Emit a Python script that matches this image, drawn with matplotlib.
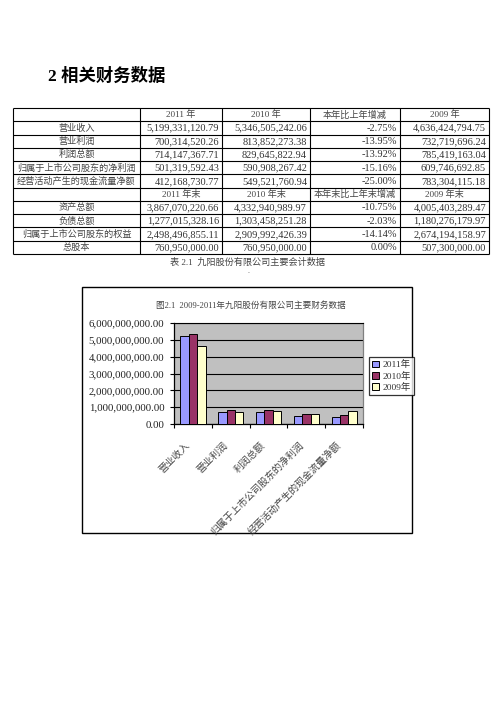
import matplotlib
matplotlib.use("Agg")
import matplotlib.pyplot as plt
from matplotlib.patches import Rectangle, Patch
from matplotlib.ticker import FixedLocator, FuncFormatter
import matplotlib.transforms as mtransforms
import numpy as np

plt.rcParams['font.family'] = ['Noto Sans CJK SC', 'DejaVu Sans']

# ---------------- data ----------------
title = "2 相关财务数据"
header1 = ["", "2011 年", "2010 年", "本年比上年增减", "2009 年"]
labels1 = ["营业收入", "营业利润", "利润总额", "归属于上市公司股东的净利润", "经营活动产生的现金流量净额"]
v2011 = [5199331120.79, 700314520.26, 714147367.71, 501319592.43, 412168730.77]
v2010 = [5346505242.06, 813852273.38, 829645822.94, 590908267.42, 549521760.94]
change1 = ["-2.75%", "-13.95%", "-13.92%", "-15.16%", "-25.00%"]
v2009 = [4636424794.75, 732719696.24, 785419163.04, 609746692.85, 783304115.18]

header2 = ["", "2011 年末", "2010 年末", "本年末比上年末增减", "2009 年末"]
labels2 = ["资产总额", "负债总额", "归属于上市公司股东的权益", "总股本"]
e2011 = [3867070220.66, 1277015328.16, 2498496855.11, 760950000.00]
e2010 = [4332940989.97, 1303458251.28, 2909992426.39, 760950000.00]
change2 = ["-10.75%", "-2.03%", "-14.14%", "0.00%"]
e2009 = [4005403289.47, 1180276179.97, 2674194158.97, 507300000.00]

table_caption = "表 2.1  九阳股份有限公司主要会计数据"
chart_title = "图2.1  2009-2011年九阳股份有限公司主要财务数据"
series_names = ["2011年", "2010年", "2009年"]
series_colors = ["#9999FF", "#993366", "#FFFFCC"]
yticks = [0, 1e9, 2e9, 3e9, 4e9, 5e9, 6e9]

# ---------------- figure ----------------
W, H = 496, 702
fig = plt.figure(figsize=(W / 100, H / 100), dpi=100)
fig.patch.set_facecolor("white")

page = fig.add_axes([0, 0, 1, 1])
page.set_xlim(0, W)
page.set_ylim(H, 0)
page.axis("off")

# title
page.text(48, 76, title, fontsize=12.5, fontweight="bold",
          family=["Liberation Serif", "Noto Sans CJK SC"], va="center", ha="left", color="black")

# table
col_x = [13, 140, 222, 310, 400, 489]
top, bottom = 108, 254
nrows = 1 + len(labels1) + 1 + len(labels2)
rh = (bottom - top) / nrows
lw = 0.8
for i in range(nrows + 1):
    page.plot([col_x[0], col_x[-1]], [top + i * rh] * 2, color="black", lw=lw, solid_capstyle="butt")
for x in col_x:
    page.plot([x, x], [top, bottom], color="black", lw=lw, solid_capstyle="butt")

txt_col = "#444444"
cjk_fs = 6.6
num_fs = 7.5
numfam = ["Liberation Serif", "Noto Sans CJK SC"]


def fmt(v):
    return f"{v:,.2f}"


rows = [header1]
for k in range(len(labels1)):
    rows.append([labels1[k], fmt(v2011[k]), fmt(v2010[k]), change1[k], fmt(v2009[k])])
rows.append(header2)
for k in range(len(labels2)):
    rows.append([labels2[k], fmt(e2011[k]), fmt(e2010[k]), change2[k], fmt(e2009[k])])
header_idx = {0, 1 + len(labels1)}

for r, row in enumerate(rows):
    yc = top + (r + 0.5) * rh + 0.3
    for c, s in enumerate(row):
        if not s:
            continue
        if r in header_idx or c == 0:
            xc = (col_x[c] + col_x[c + 1]) / 2
            page.text(xc, yc, s, fontsize=cjk_fs, ha="center", va="center", color=txt_col,
                      family=numfam)
        else:
            page.text(col_x[c + 1] - 3, yc, s, fontsize=num_fs, ha="right", va="center",
                      color="#333333", family=numfam)

page.text(248, 262, table_caption, fontsize=6.6, ha="center", va="center", color=txt_col,
          family=numfam)
page.text(248, 271, ".", fontsize=5, ha="center", va="center", color="#666666")

# chart box
page.add_patch(Rectangle((82, 287), 412 - 82, 533 - 287, facecolor="white", edgecolor="black", lw=1.0))
page.text(251, 305, chart_title, fontsize=6.2, ha="center", va="center", color="#444444",
          family=numfam)

# ---------------- chart ----------------
pl, pr, pt, pb = 174, 363, 323, 424
ax = fig.add_axes([pl / W, 1 - pb / H, (pr - pl) / W, (pb - pt) / H])
ax.set_facecolor("#C0C0C0")
x = np.arange(len(labels1))
w = 1 / 4.5
for i, (vals, col) in enumerate(zip([v2011, v2010, v2009], series_colors)):
    ax.bar(x + (i - 1) * w, vals, width=w, color=col, edgecolor="black", linewidth=0.7, zorder=3)

ax.set_xlim(-0.5, len(labels1) - 0.5)
ax.set_ylim(0, 6e9)
ax.yaxis.set_major_locator(FixedLocator(yticks))
ax.yaxis.set_major_formatter(FuncFormatter(lambda v, p: f"{v:,.2f}"))
ax.grid(axis="y", color="black", lw=0.8, zorder=1)
ax.set_axisbelow(True)
ax.tick_params(axis="y", direction="out", length=3, width=0.8, pad=4, labelsize=7.8, colors="black")
for lab in ax.get_yticklabels():
    lab.set_family(numfam)
    lab.set_color("#222222")

ax.set_xticks(x)
ax.set_xticklabels(labels1, rotation=45, ha="right", va="center", rotation_mode="anchor",
                   fontsize=7, color="#444444")
ax.tick_params(axis="x", which="major", length=0, pad=14)
offset = mtransforms.ScaledTranslation(-5 / 100, 0, fig.dpi_scale_trans)
for lab in ax.get_xticklabels():
    lab.set_transform(lab.get_transform() + offset)
ax.set_xticks(np.arange(-0.5, len(labels1)), minor=True)
ax.tick_params(axis="x", which="minor", direction="out", length=3, width=0.8)

for s in ["left", "bottom"]:
    ax.spines[s].set_color("black")
    ax.spines[s].set_linewidth(0.9)
ax.spines["top"].set_color("black")
ax.spines["top"].set_linewidth(0.8)
ax.spines["right"].set_color("#808080")
ax.spines["right"].set_linewidth(0.9)

handles = [Patch(facecolor=c, edgecolor="black", lw=0.7) for c in series_colors]
leg = fig.legend(handles, series_names, loc="upper left", bbox_to_anchor=(369 / W, 1 - 357 / H),
                 borderaxespad=0, fontsize=6.8, frameon=True, fancybox=False, edgecolor="black",
                 borderpad=0.35, labelspacing=0.25, handlelength=0.75, handleheight=0.75,
                 handletextpad=0.3)
leg.get_frame().set_linewidth(0.9)
for t in leg.get_texts():
    t.set_family(numfam)
    t.set_color("#333333")

fig.savefig("out.png", dpi=100)
